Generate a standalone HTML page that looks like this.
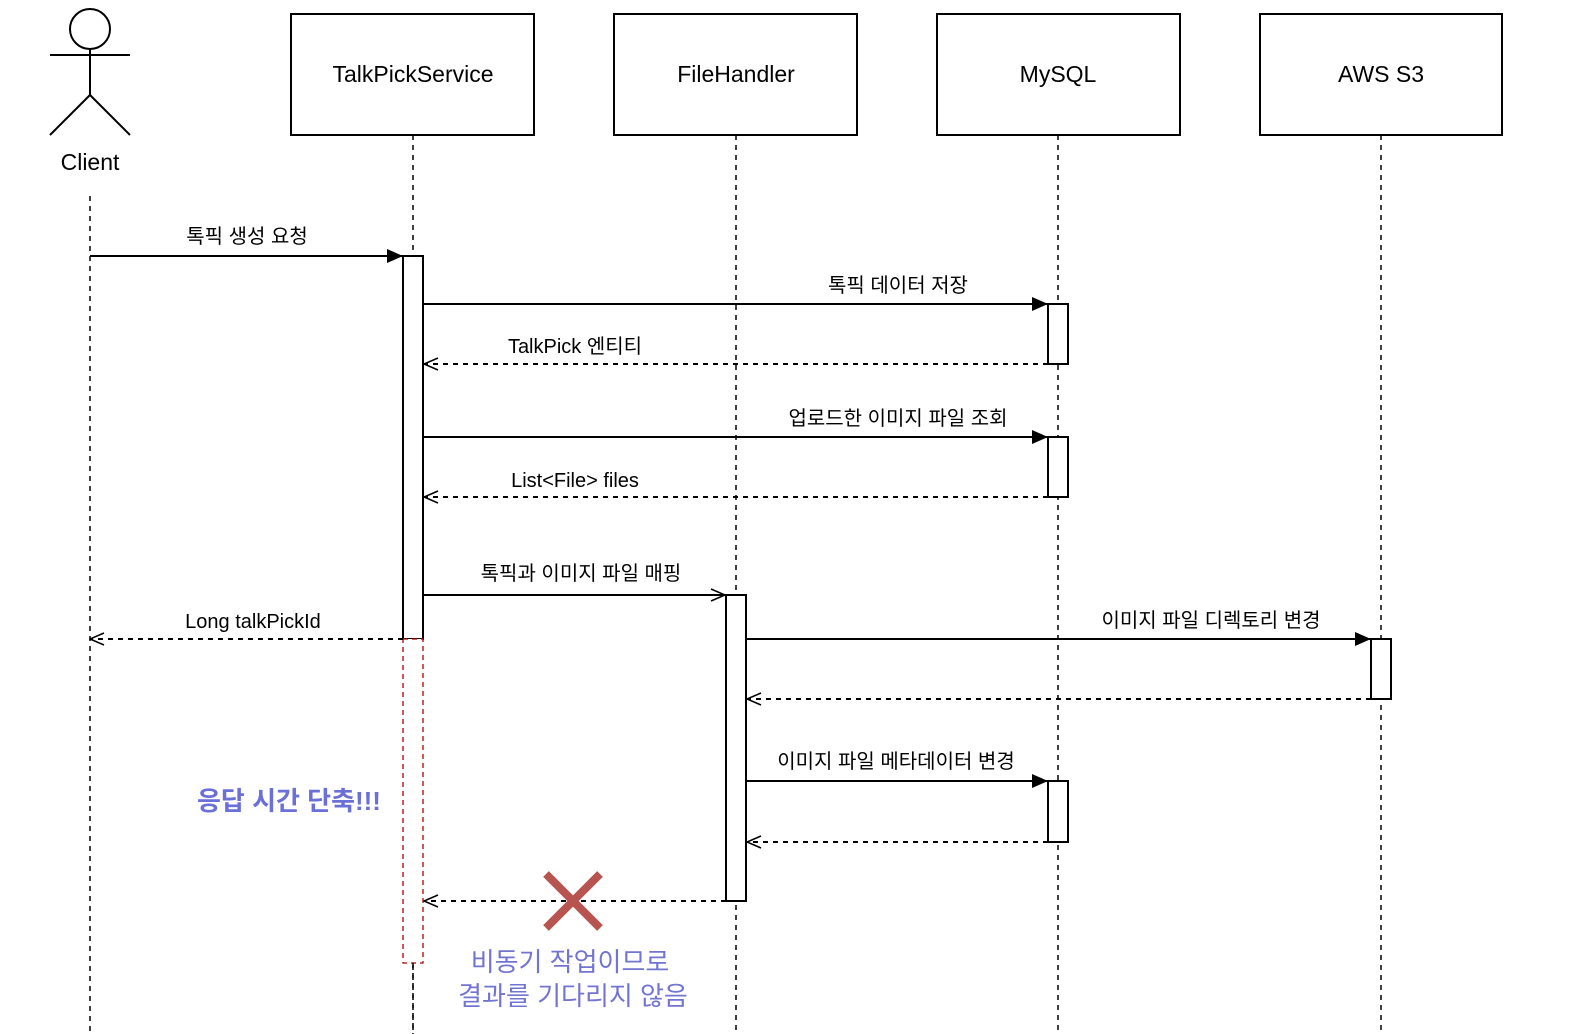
<!DOCTYPE html>
<html><head><meta charset="utf-8"><style>
html,body{margin:0;padding:0;background:#fff;}
svg{display:block;}
svg text{font-family:"Liberation Sans","Noto Sans CJK KR",sans-serif;}
</style></head><body>
<svg width="1572" height="1034" viewBox="0 0 1572 1034" xmlns="http://www.w3.org/2000/svg">
<defs>
<marker id="f" markerWidth="16" markerHeight="14" refX="16" refY="7" orient="auto" markerUnits="userSpaceOnUse"><path d="M0,0 L16,7 L0,14 Z" fill="#000"/></marker>
<marker id="o" markerWidth="16" markerHeight="14" refX="15" refY="7" orient="auto" markerUnits="userSpaceOnUse"><path d="M1,1 L15,7 L1,13" fill="none" stroke="#000" stroke-width="1.5"/></marker>
</defs>
<g stroke="#000" stroke-width="2" fill="none">
<circle cx="90" cy="29" r="20"/>
<line x1="90" y1="49" x2="90" y2="95"/>
<line x1="50" y1="55" x2="130" y2="55"/>
<line x1="90" y1="95" x2="50" y2="135"/>
<line x1="90" y1="95" x2="130" y2="135"/>
<rect x="291" y="14" width="243" height="121"/>
<rect x="614" y="14" width="243" height="121"/>
<rect x="937" y="14" width="243" height="121"/>
<rect x="1260" y="14" width="242" height="121"/>
<g stroke-dasharray="5,5" stroke-width="1.5">
<line x1="90" y1="196" x2="90" y2="1034"/>
<line x1="413" y1="135" x2="413" y2="1034"/>
<line x1="736" y1="135" x2="736" y2="1034"/>
<line x1="1058" y1="135" x2="1058" y2="1034"/>
<line x1="1381" y1="135" x2="1381" y2="1034"/>
</g>
</g>
<g stroke="#000" stroke-width="2" fill="#fff">
<rect x="403" y="256" width="20" height="383"/>
<rect x="1048" y="304" width="20" height="60"/>
<rect x="1048" y="437" width="20" height="60"/>
<rect x="726" y="595" width="20" height="306"/>
<rect x="1371" y="639" width="20" height="60"/>
<rect x="1048" y="781" width="20" height="61"/>
</g>
<rect x="403" y="639" width="20" height="324" fill="#fff" stroke="#b20000" stroke-width="1.3" stroke-dasharray="5,4"/>
<line x1="413" y1="963" x2="413" y2="1034" stroke="#000" stroke-width="1.5" stroke-dasharray="5,5"/>
<g stroke="#000" stroke-width="2" fill="none">
<line x1="90" y1="256" x2="403" y2="256" marker-end="url(#f)"/>
<line x1="423" y1="304" x2="1048" y2="304" marker-end="url(#f)"/>
<line x1="1048" y1="364" x2="424" y2="364" stroke-dasharray="5,5" marker-end="url(#o)"/>
<line x1="423" y1="437" x2="1048" y2="437" marker-end="url(#f)"/>
<line x1="1048" y1="497" x2="424" y2="497" stroke-dasharray="5,5" marker-end="url(#o)"/>
<line x1="423" y1="595" x2="725" y2="595" marker-end="url(#o)"/>
<line x1="403" y1="639" x2="90" y2="639" stroke-dasharray="5,5" marker-end="url(#o)"/>
<line x1="746" y1="639" x2="1371" y2="639" marker-end="url(#f)"/>
<line x1="1371" y1="699" x2="747" y2="699" stroke-dasharray="5,5" marker-end="url(#o)"/>
<line x1="746" y1="781" x2="1048" y2="781" marker-end="url(#f)"/>
<line x1="1048" y1="842" x2="747" y2="842" stroke-dasharray="5,5" marker-end="url(#o)"/>
<line x1="726" y1="901" x2="424" y2="901" stroke-dasharray="5,5" marker-end="url(#o)"/>
</g>
<g stroke="#b85450" stroke-width="8">
<line x1="546" y1="874" x2="600" y2="928"/>
<line x1="600" y1="874" x2="546" y2="928"/>
</g>
<g font-size="23" text-anchor="middle" fill="#000">
<text x="90" y="170">Client</text>
<text x="413" y="82">TalkPickService</text>
<text x="736" y="82">FileHandler</text>
<text x="1058" y="82">MySQL</text>
<text x="1381" y="82">AWS S3</text>
</g>
<g font-size="20" text-anchor="middle" fill="#000">
<text x="247" y="243">톡픽 생성 요청</text>
<text x="898" y="292">톡픽 데이터 저장</text>
<text x="575" y="353">TalkPick 엔티티</text>
<text x="898" y="425">업로드한 이미지 파일 조회</text>
<text x="575" y="487">List&lt;File&gt; files</text>
<text x="581" y="580">톡픽과 이미지 파일 매핑</text>
<text x="253" y="628">Long talkPickId</text>
<text x="1211" y="627">이미지 파일 디렉토리 변경</text>
<text x="896" y="768">이미지 파일 메타데이터 변경</text>
</g>
<text x="289" y="810" font-size="26" font-weight="bold" text-anchor="middle" fill="#6b6fd8">응답 시간 단축!!!</text>
<g font-size="26" text-anchor="middle" fill="#7274d2">
<text x="570" y="971">비동기 작업이므로</text>
<text x="573" y="1005">결과를 기다리지 않음</text>
</g>
</svg>
</body></html>
